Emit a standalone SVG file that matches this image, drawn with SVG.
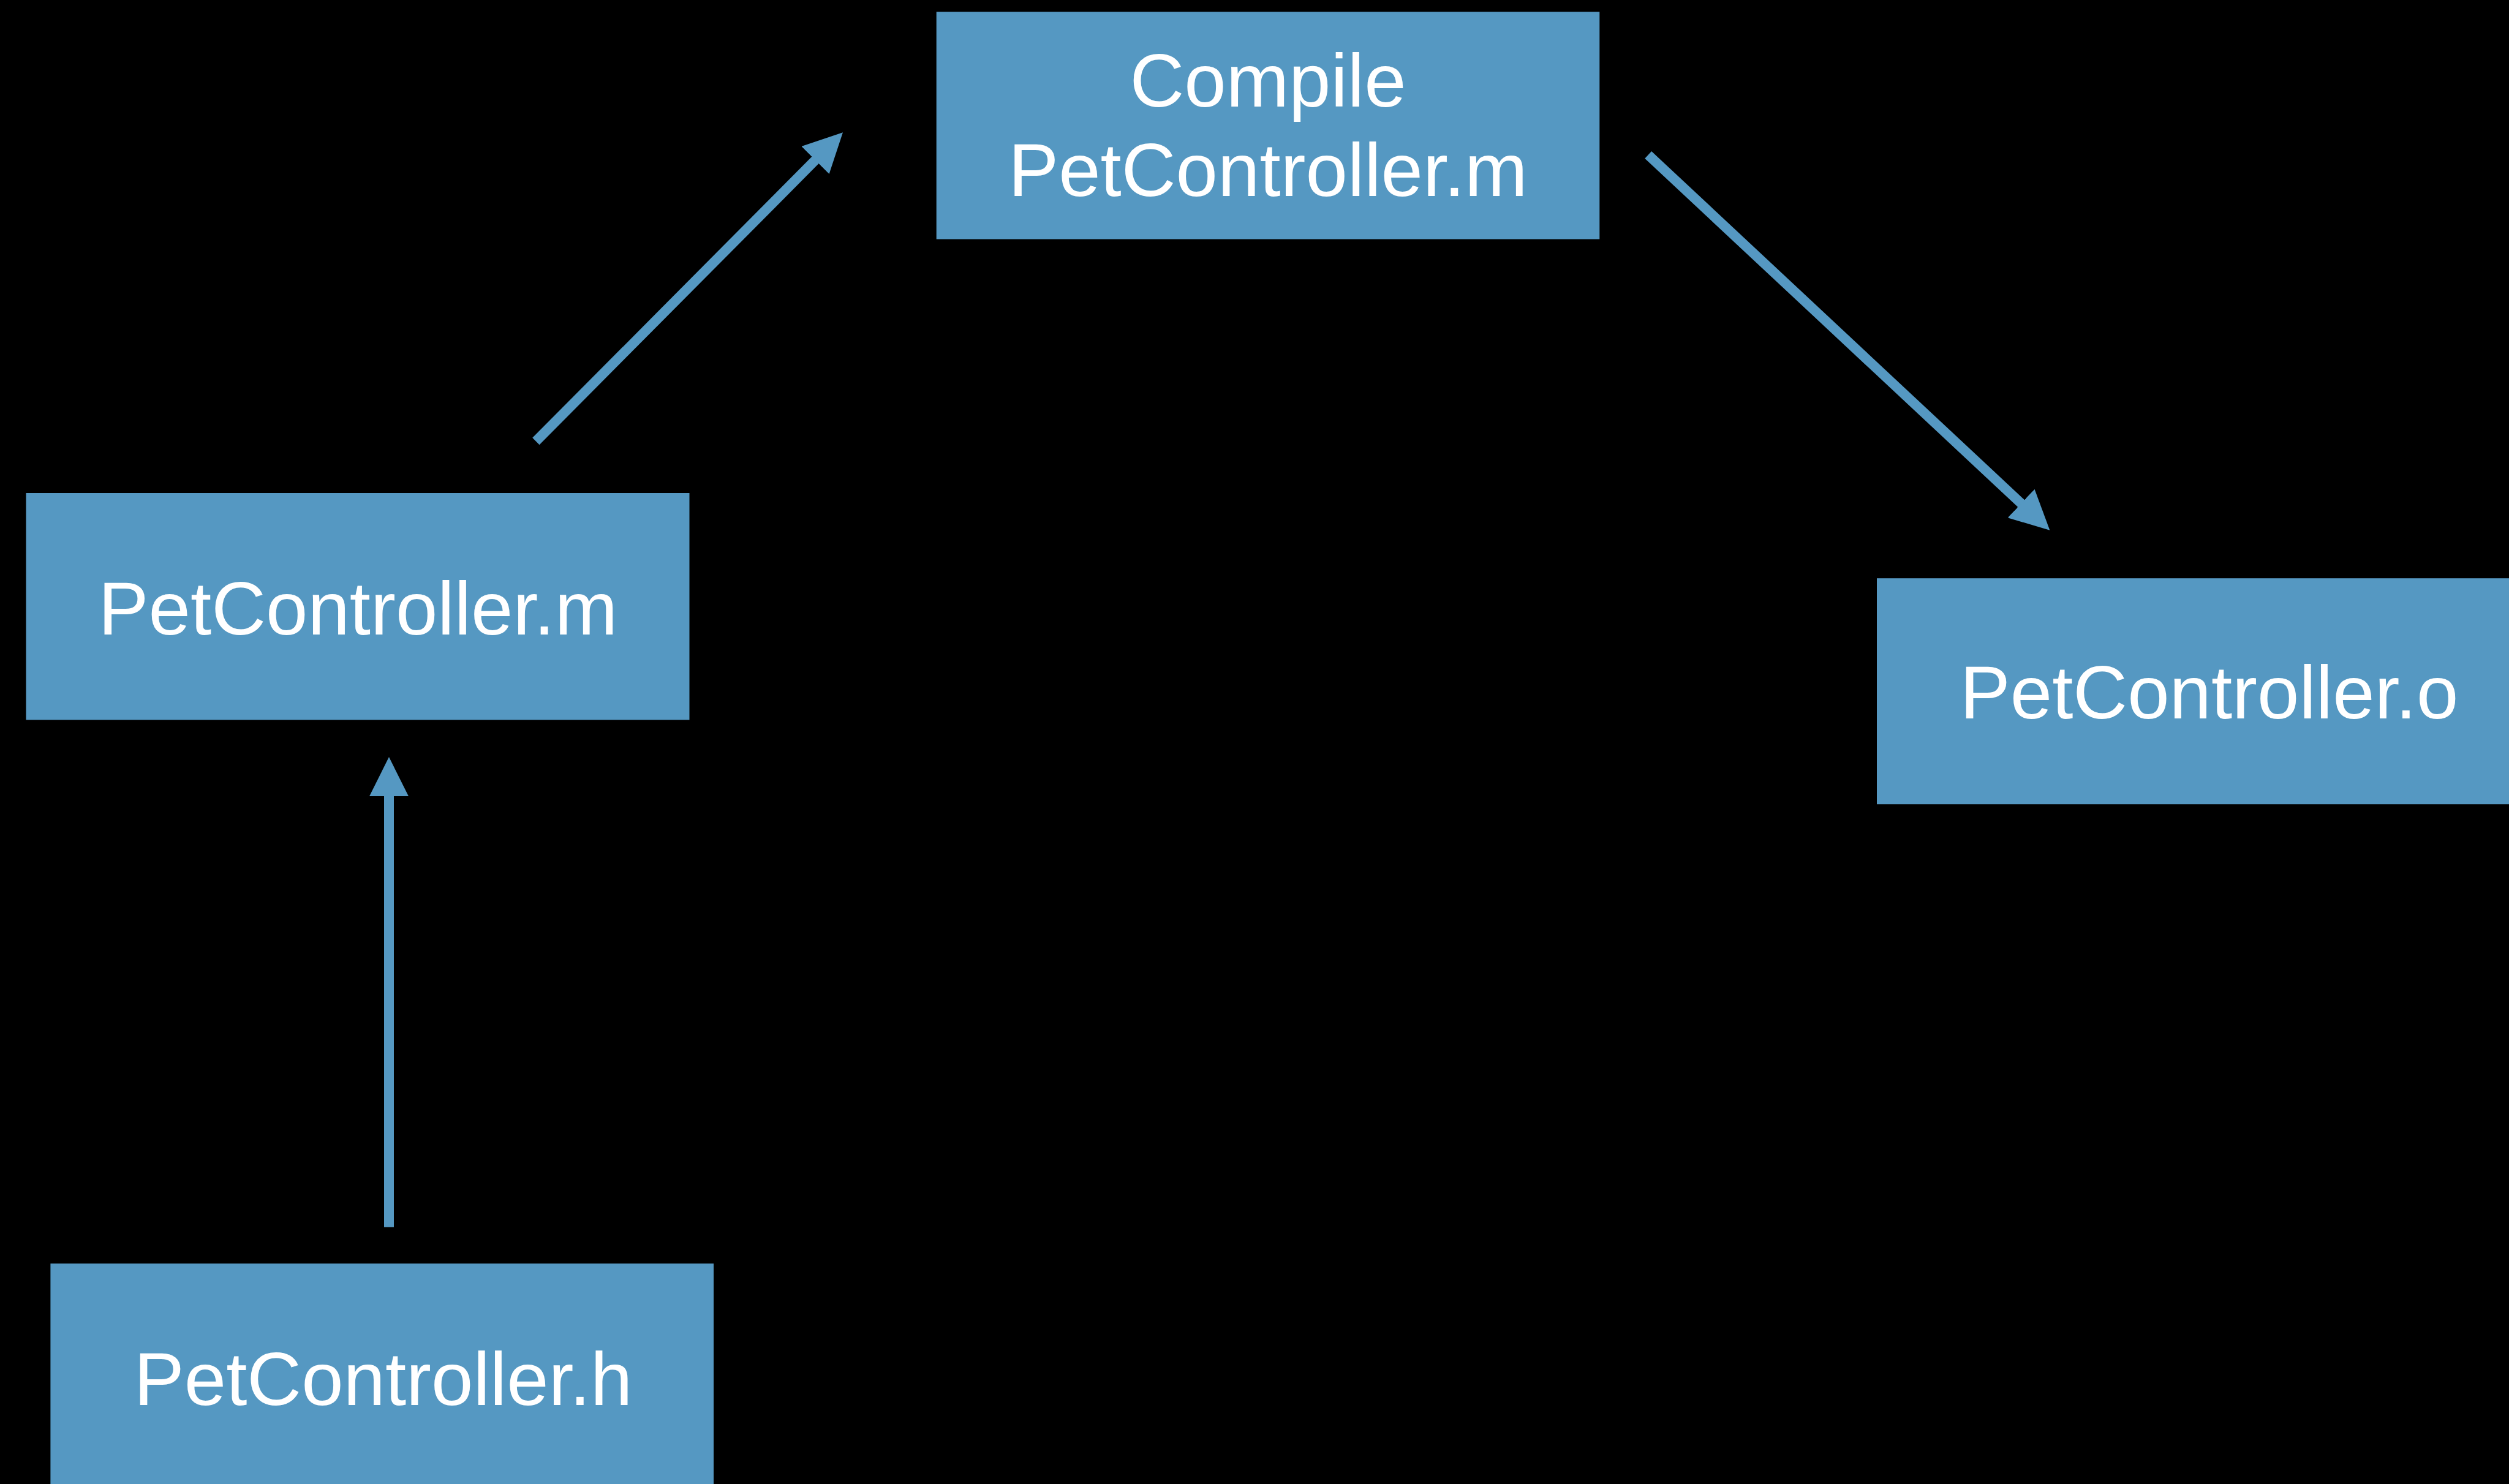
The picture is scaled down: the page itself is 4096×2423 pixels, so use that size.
<svg xmlns="http://www.w3.org/2000/svg" width="4096" height="2423" viewBox="0 0 4096 2423">
<style>
.box{fill:#5598C2}
.lbl{fill:#FFFFFF;font-family:"Liberation Sans",Arial,sans-serif;font-size:123px;text-anchor:middle}
.edge{stroke:#5598C2;stroke-width:16;fill:none;stroke-linecap:butt;marker-end:url(#ah)}
</style>
<defs>
<marker id="ah" markerUnits="userSpaceOnUse" markerWidth="64" markerHeight="64" viewBox="0 0 64 64" refX="4" refY="32" orient="auto">
<path d="M0,0 L64,32 L0,64 Z" fill="#5598C2"/>
</marker>
</defs>
<rect x="0" y="0" width="4096" height="2423" fill="#000000"/>
<g id="connectors">
<line class="edge" x1="874.9" y1="720.5" x2="1333.7" y2="258.7"/>
<line class="edge" x1="2690.7" y1="252.9" x2="3302.5" y2="824.7"/>
<line class="edge" x1="635" y1="2003.5" x2="635" y2="1296.1"/>
</g>
<g id="compile">
<rect class="box" x="1528.7" y="19.3" width="1082.6" height="371.2"/>
<text class="lbl" x="2070" y="173.8">Compile</text>
<text class="lbl" x="2070" y="320.1">PetController.m</text>
</g>
<g id="petcontroller-m">
<rect class="box" x="42.5" y="805" width="1083" height="370.4"/>
<text class="lbl" x="584.4" y="1035.8">PetController.m</text>
</g>
<g id="petcontroller-o">
<rect class="box" x="3064" y="944.2" width="1082.6" height="369"/>
<text class="lbl" x="3606.5" y="1173">PetController.o</text>
</g>
<g id="petcontroller-h">
<rect class="box" x="82.4" y="2063" width="1082.6" height="371"/>
<text class="lbl" x="625.5" y="2293.5">PetController.h</text>
</g>
</svg>
